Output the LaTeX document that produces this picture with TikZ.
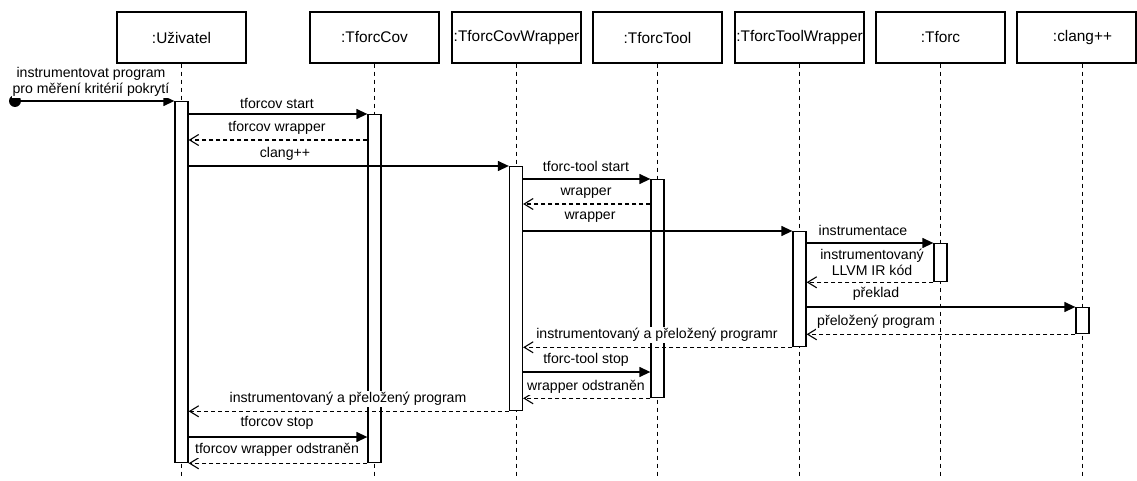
\documentclass[tikz,border=0pt]{standalone}
\usepackage{fontspec}
\setmainfont{Liberation Sans}
\usetikzlibrary{arrows.meta}
\begin{document}
\begin{tikzpicture}[x=1pt,y=-1pt,
  hdr/.style={draw,line width=1.3pt,minimum width=129pt,minimum height=51pt,inner sep=0pt,font=\fontsize{15.4}{18}\selectfont},
  life/.style={line width=1.1pt,dash pattern=on 4pt off 4pt},
  act/.style={draw,fill=white,line width=1.3pt,minimum width=13pt,inner sep=0pt,anchor=north},
  call/.style={line width=1.3pt,-{Triangle[length=11pt,width=10pt]}},
  ret/.style={line width=1.1pt,dash pattern=on 4pt off 3pt,-{Straight Barb[length=9pt,width=11pt,line width=1.1pt]}},
  lbl/.style={fill=white,inner sep=1pt,align=center,font=\fontsize{14.1}{16}\selectfont}]
\useasboundingbox (0,0) rectangle (1137,481);
% header boxes
\node[hdr] (b1) at (181.5,37.5) {:Uživatel};
\node[hdr] (b2) at (374.5,37.5) {:TforcCov};
\node[hdr] (b3) at (516.5,37.5) {:TforcCovWrapper};
\node[hdr] (b4) at (657.5,37.5) {:TforcTool};
\node[hdr] (b5) at (799.5,37.5) {:TforcToolWrapper};
\node[hdr] (b6) at (940.5,37.5) {:Tforc};
\node[hdr,minimum width=119pt] (b7) at (1076.5,37.5) {};
\node[font=\fontsize{15.4}{18}\selectfont] (t7) at (1082.5,37.5) {:clang++};
% lifeline ends
\coordinate (e1) at (181.5,476);
\coordinate (e2) at (374.5,476);
\coordinate (e3) at (516.5,476);
\coordinate (e4) at (657.5,476);
\coordinate (e5) at (799.5,476);
\coordinate (e6) at (940.5,476);
\coordinate (e7) at (1082.5,476);
\draw[life] (b1.south) -- (e1);
\draw[life] (b2.south) -- (e2);
\draw[life] (b3.south) -- (e3);
\draw[life] (b4.south) -- (e4);
\draw[life] (b5.south) -- (e5);
\draw[life] (b6.south) -- (e6);
\draw[life] (e7 |- b7.south) -- (e7);
% activations
\node[act,minimum height=361pt] (a1) at (181.5,101) {};
\node[act,minimum height=348pt] (a2) at (374.5,114) {};
\node[act,minimum height=244pt] (a3) at (516,166) {};
\node[act,minimum height=218pt] (a4) at (657.5,179) {};
\node[act,minimum height=115pt] (a5) at (799.5,231) {};
\node[act,minimum height=38pt] (a6) at (940.5,243) {};
\node[act,minimum height=26pt] (a7) at (1082.5,307) {};
% start
\node[circle,fill,inner sep=0pt,minimum size=12pt] (st) at (15,101) {};
% messages
\draw[call] (st.center) -- (a1.north west);
\draw[call] (a1.east |- 0,114) -- (a2.north west);
\draw[ret] (a2.west |- 0,140) -- (a1.east |- 0,140);
\draw[call] (a1.east |- 0,166) -- (a3.north west);
\draw[call] (a3.east |- 0,179) -- (a4.north west);
\draw[ret] (a4.west |- 0,204) -- (a3.east |- 0,204);
\draw[call] (a3.east |- 0,231) -- (a5.north west);
\draw[call] (a5.east |- 0,243) -- (a6.north west);
\draw[ret] (a6.south west) -- (a5.east |- a6.south west);
\draw[call] (a5.east |- 0,307) -- (a7.north west);
\draw[ret] (a7.south west) -- (a5.east |- a7.south west);
\draw[ret] (a5.south west) -- (a3.east |- a5.south west);
\draw[call] (a3.east |- 0,372) -- (a4.west |- 0,372);
\draw[ret] (a4.south west) -- (a3.east |- a4.south west);
\draw[ret] (a3.south west) -- (a1.east |- a3.south west);
\draw[call] (a1.east |- 0,437) -- (a2.west |- 0,437);
\draw[ret] (a2.south west) -- (a1.east |- a2.south west);
% labels
\node[lbl] (l0) at (91,82) {instrumentovat program\\pro měření kritérií pokrytí};
\node[lbl] (l1) at (277,103) {tforcov start};
\node[lbl] (l2) at (277,128) {tforcov wrapper};
\node[lbl] (l3) at (285,154) {clang++};
\node[lbl] (l4) at (586,166) {tforc-tool start};
\node[lbl] (l5) at (586,193) {wrapper};
\node[lbl] (l6) at (590,217) {wrapper};
\node[lbl] (l7) at (863,230) {instrumentace};
\node[lbl] (l8) at (872,262) {instrumentovaný\\LLVM IR kód};
\node[lbl] (l9) at (876,294) {překlad};
\node[lbl] (l10) at (876,322) {přeložený program};
\node[lbl] (l11) at (657,335) {instrumentovaný a přeložený programr};
\node[lbl] (l12) at (586,360) {tforc-tool stop};
\node[lbl] (l13) at (586,387) {wrapper odstraněn};
\node[lbl] (l14) at (348,399) {instrumentovaný a přeložený program};
\node[lbl] (l15) at (277,423) {tforcov stop};
\node[lbl] (l16) at (277,450) {tforcov wrapper odstraněn};
\end{tikzpicture}
\end{document}
